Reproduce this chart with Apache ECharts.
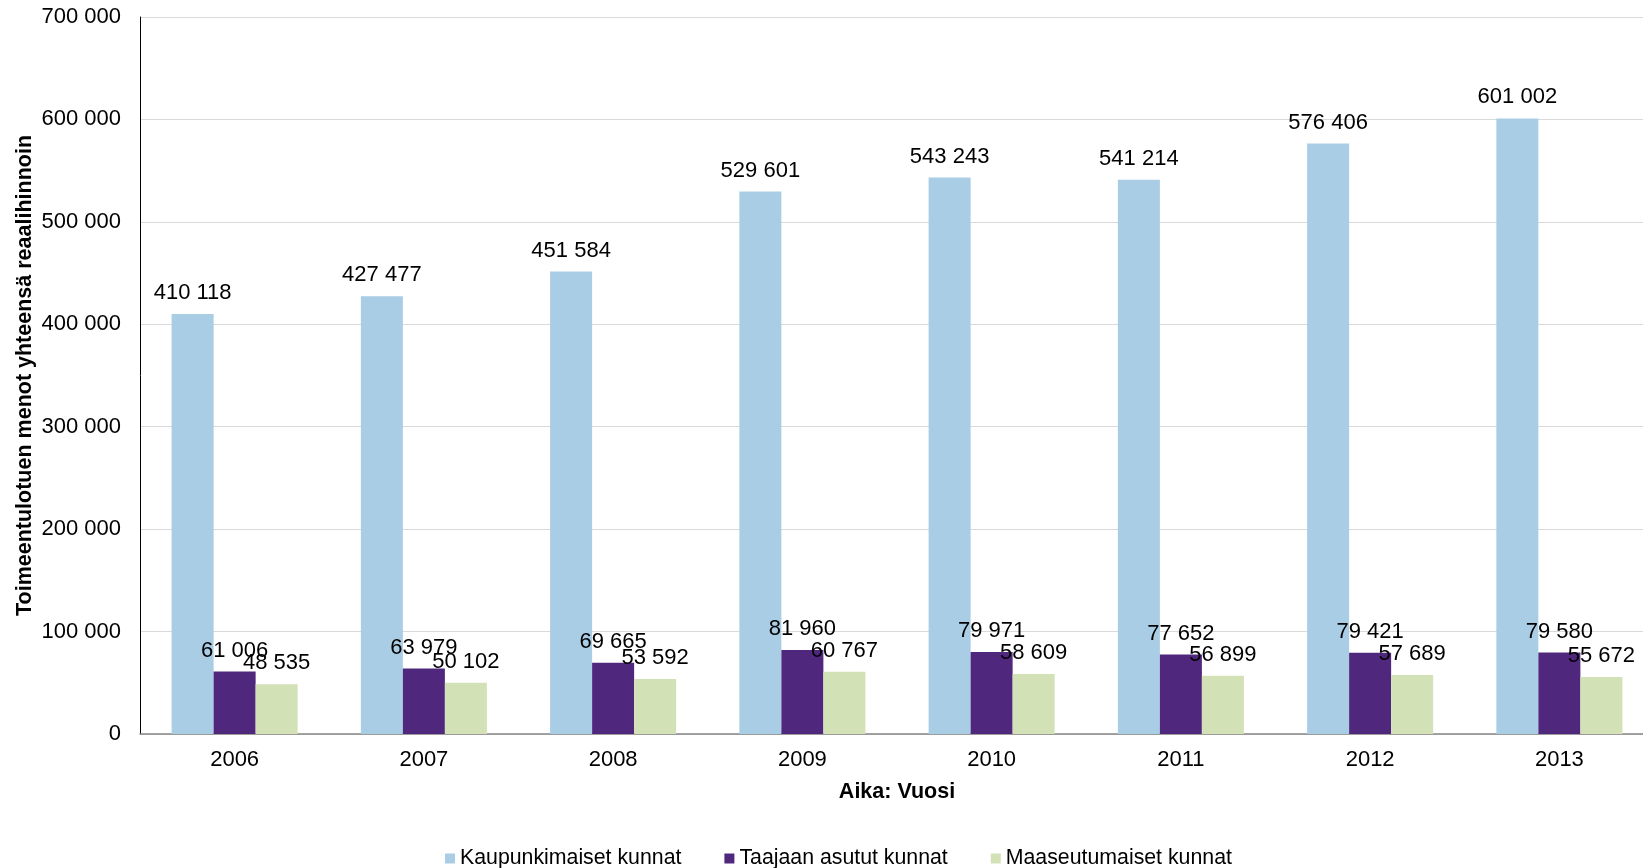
<!DOCTYPE html>
<html>
<head>
<meta charset="utf-8">
<script src="https://cdn.jsdelivr.net/npm/echarts@6/dist/echarts.min.js"></script>
<style>
html,body{margin:0;padding:0;background:#fff;}
#chart{width:1643px;height:868px;}
</style>
</head>
<body>
<div id="chart"></div>
<script>
var categories = ['2006','2007','2008','2009','2010','2011','2012','2013'];
var seriesNames = ['Kaupunkimaiset kunnat','Taajaan asutut kunnat','Maaseutumaiset kunnat'];
var kaupunki = [410118, 427477, 451584, 529601, 543243, 541214, 576406, 601002];
var taajaan = [61006, 63979, 69665, 81960, 79971, 77652, 79421, 79580];
var maaseutu = [48535, 50102, 53592, 60767, 58609, 56899, 57689, 55672];
var yTicks = {min: 0, max: 700000, interval: 100000};
var colors = ['#A9CDE5', '#4F287E', '#D3E1B6'];

function fmt(v){
  return String(Math.round(v)).replace(/\B(?=(\d{3})+(?!\d))/g, ' ');
}
var FONT = 'Liberation Sans, Arial, sans-serif';

var chart = echarts.init(document.getElementById('chart'));
function mk(name, data, color){
  return {
    name: name, type: 'bar', data: data,
    barGap: '0%', barCategoryGap: '33.4%',
    itemStyle: {color: color},
    label: {show: true, position: 'top', distance: 10, color: '#000',
      fontFamily: FONT, fontSize: 22,
      formatter: function(p){return fmt(p.value);}},
    emphasis: {disabled: true}
  };
}
chart.setOption({
  animation: false,
  color: colors,
  grid: {left: 140, width: 1514, top: 17, bottom: 134, containLabel: false, outerBoundsMode: 'none'},
  legend: {
    data: seriesNames, top: 843, left: 440,
    itemWidth: 10, itemHeight: 10, itemGap: 43, icon: 'rect',
    textStyle: {fontFamily: FONT, fontSize: 21.3, color: '#000'}
  },
  xAxis: {
    type: 'category', data: categories,
    name: 'Aika: Vuosi', nameLocation: 'middle', nameGap: 47,
    nameTextStyle: {fontFamily: FONT, fontSize: 21.5, fontWeight: 'bold', color: '#000'},
    axisLine: {lineStyle: {color: '#868686', width: 1.5}},
    axisTick: {show: false},
    axisLabel: {fontFamily: FONT, fontSize: 22, color: '#000', margin: 15}
  },
  yAxis: {
    type: 'value', min: yTicks.min, max: yTicks.max, interval: yTicks.interval,
    name: 'Toimeentulotuen menot yhteensä reaalihinnoin', nameLocation: 'middle', nameGap: 104,
    nameMoveOverlap: false,
    nameRotate: 90,
    nameTextStyle: {fontFamily: FONT, fontSize: 21.5, fontWeight: 'bold', color: '#000'},
    axisLine: {show: true, lineStyle: {color: '#000', width: 1}},
    axisTick: {show: false},
    splitLine: {lineStyle: {color: '#D9D9D9', width: 1}},
    axisLabel: {fontFamily: FONT, fontSize: 22, color: '#000', margin: 19,
      formatter: function(v){return fmt(v);}}
  },
  series: [mk(seriesNames[0], kaupunki, colors[0]), mk(seriesNames[1], taajaan, colors[1]), mk(seriesNames[2], maaseutu, colors[2])]
});
</script>
</body>
</html>
